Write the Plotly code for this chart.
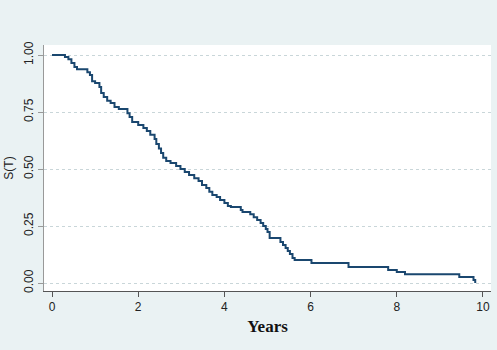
import plotly.graph_objects as go

# Kaplan-Meier estimate
times = [0, 0.30, 0.38, 0.45, 0.52, 0.58, 0.82, 0.88, 0.93, 1.00, 1.10, 1.14, 1.20,
         1.28, 1.36, 1.45, 1.55, 1.75, 1.80, 1.86, 2.00, 2.12, 2.20, 2.28, 2.38,
         2.42, 2.48, 2.53, 2.58, 2.65, 2.75, 2.88, 2.98, 3.08, 3.18, 3.30, 3.40,
         3.48, 3.58, 3.65, 3.72, 3.82, 3.90, 4.00, 4.08, 4.15, 4.38, 4.42, 4.60,
         4.68, 4.76, 4.84, 4.90, 4.96, 5.00, 5.05, 5.30, 5.36, 5.42, 5.47, 5.52,
         5.58, 5.63, 6.02, 6.88, 7.80, 8.00, 8.19, 9.45, 9.78, 9.82]
surv = [1.0, 0.991, 0.982, 0.965, 0.947, 0.938, 0.925, 0.912, 0.885, 0.877, 0.86,
        0.833, 0.816, 0.80, 0.79, 0.772, 0.763, 0.745, 0.728, 0.706, 0.693, 0.68,
        0.667, 0.65, 0.632, 0.61, 0.59, 0.57, 0.55, 0.535, 0.526, 0.513, 0.50,
        0.487, 0.474, 0.46, 0.447, 0.43, 0.417, 0.40, 0.386, 0.377, 0.364, 0.351,
        0.338, 0.333, 0.32, 0.311, 0.302, 0.289, 0.276, 0.263, 0.25, 0.237, 0.224,
        0.197, 0.18, 0.167, 0.154, 0.14, 0.127, 0.11, 0.101, 0.088, 0.070, 0.057,
        0.048, 0.039, 0.026, 0.013, 0.0]

x_ticks = [0, 2, 4, 6, 8, 10]
y_ticks = [0, 0.25, 0.5, 0.75, 1.0]
y_labels = ["0.00", "0.25", "0.50", "0.75", "1.00"]

fig = go.Figure()
fig.add_trace(go.Scatter(
    x=times, y=surv, mode="lines", line_shape="hv",
    line=dict(color="#1a476f", width=2), showlegend=False, hoverinfo="skip"))

fig.update_layout(
    width=497, height=350,
    margin=dict(l=44, r=6, t=45, b=59),
    paper_bgcolor="#eaf2f3",
    plot_bgcolor="#ffffff",
    font=dict(family="Liberation Sans, Arial, sans-serif", size=12, color="#222222"),
)
fig.update_xaxes(
    range=[-0.186, 10.186], tickvals=x_ticks,
    showgrid=False, zeroline=False,
    showline=True, linecolor="#555555", linewidth=1,
    ticks="outside", ticklen=5, tickcolor="#555555",
    tickfont=dict(size=12, color="#222222"),
    title=dict(text="<b>Years</b>",
               font=dict(family="Liberation Serif, Times New Roman, serif", size=17, color="#111111"),
               standoff=6),
)
fig.update_yaxes(
    range=[-0.035, 1.044], tickvals=y_ticks, ticktext=y_labels,
    tickangle=-90,
    showgrid=True, gridcolor="#c9d6d9", griddash="dot", gridwidth=1,
    zeroline=False,
    showline=True, linecolor="#999999", linewidth=1,
    ticks="outside", ticklen=5, tickcolor="#999999",
    tickfont=dict(size=12, color="#222222"),
    title=dict(text="S(T)", font=dict(size=12, color="#222222"), standoff=6),
)

fig.write_html("out.html")
